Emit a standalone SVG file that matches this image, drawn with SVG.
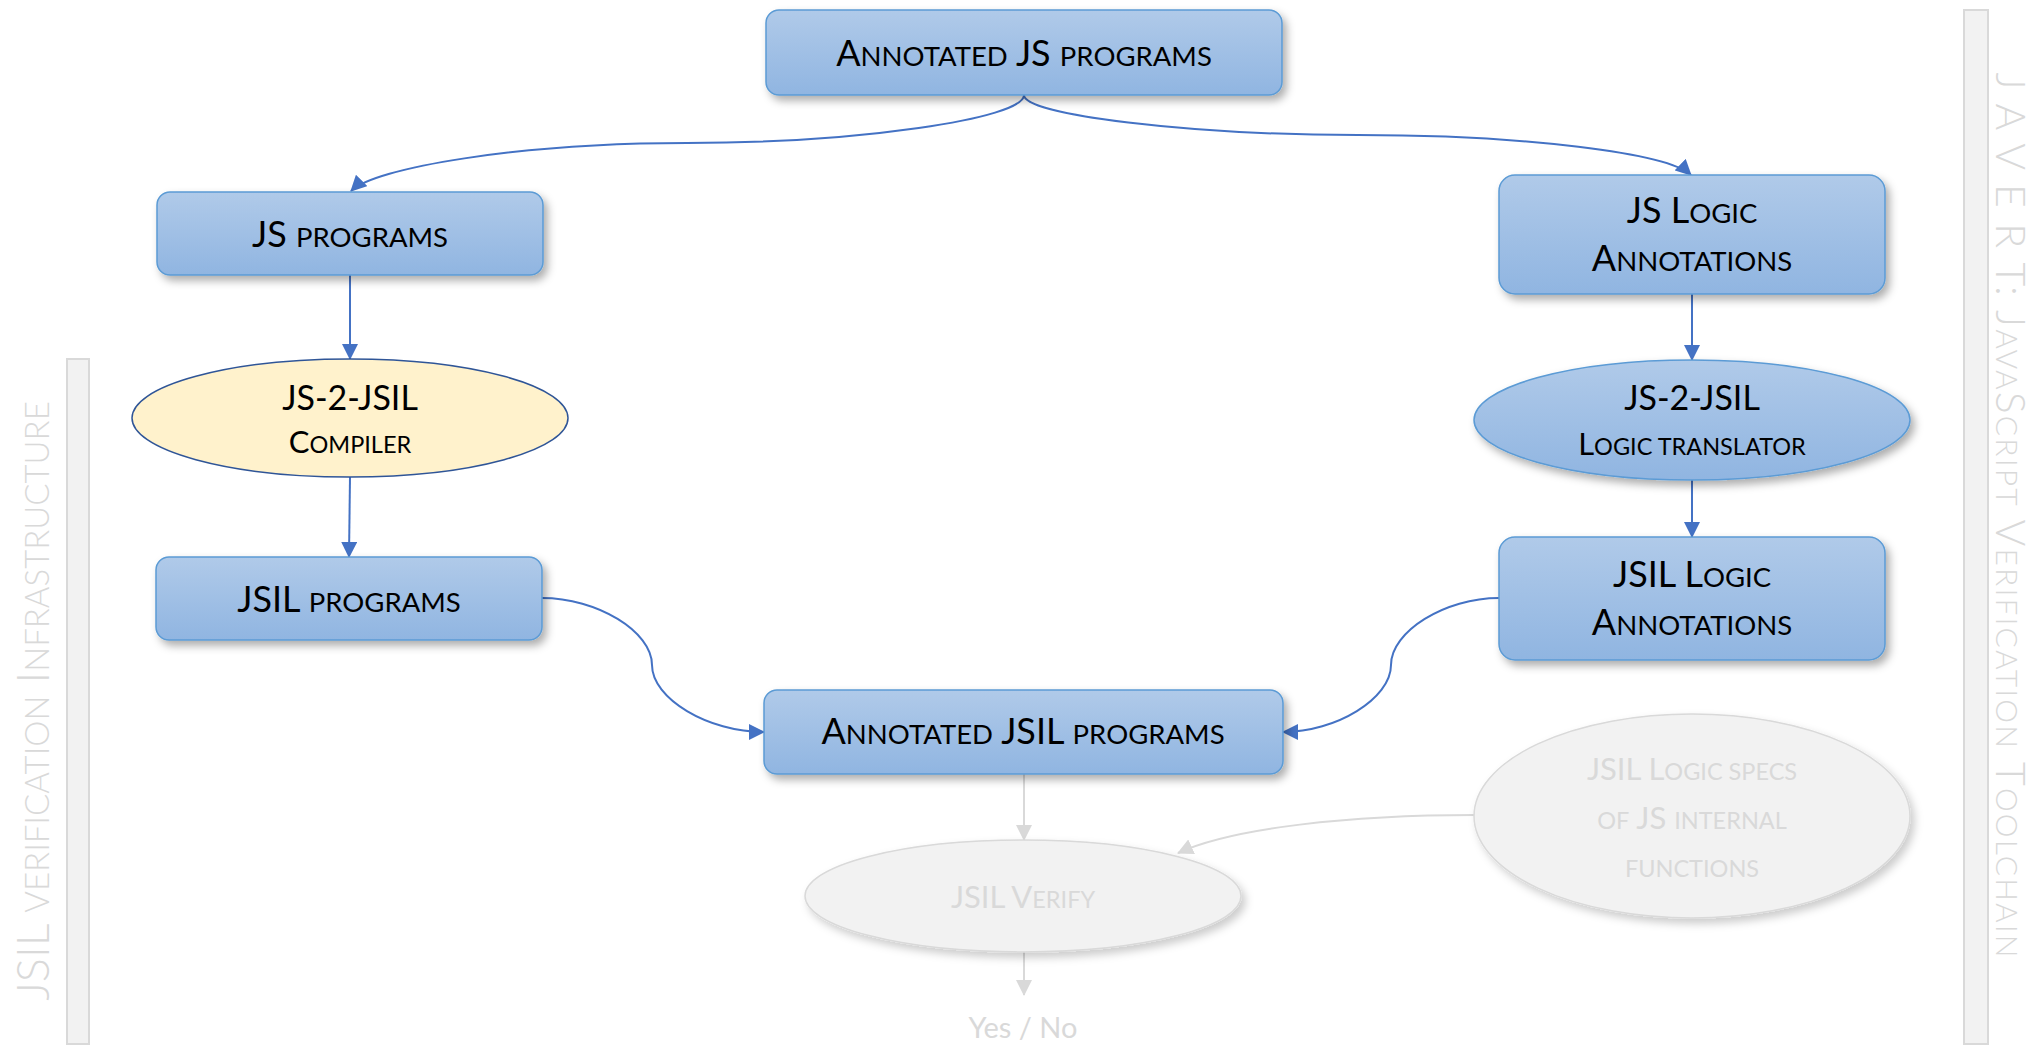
<svg xmlns="http://www.w3.org/2000/svg" width="2033" height="1045" viewBox="0 0 2033 1045">
  <defs>
    <linearGradient id="blueFill" x1="0" y1="0" x2="0" y2="1">
      <stop offset="0" stop-color="#b0cae9"/>
      <stop offset="1" stop-color="#90b5e1"/>
    </linearGradient>
    <filter id="shadow" x="-10%" y="-20%" width="125%" height="150%">
      <feDropShadow dx="4" dy="5" stdDeviation="4" flood-color="#000" flood-opacity="0.32"/>
    </filter>
    <filter id="shadowSoft" x="-10%" y="-20%" width="125%" height="150%">
      <feDropShadow dx="4" dy="5" stdDeviation="4" flood-color="#000" flood-opacity="0.2"/>
    </filter>
    <marker id="arrowBlue" markerUnits="userSpaceOnUse" markerWidth="16" markerHeight="16" viewBox="0 0 16 16" refX="15" refY="8" orient="auto">
      <path d="M0,0 L16,8 L0,16 Z" fill="#4472c4"/>
    </marker>
    <marker id="arrowGray" markerUnits="userSpaceOnUse" markerWidth="16" markerHeight="16" viewBox="0 0 16 16" refX="15" refY="8" orient="auto">
      <path d="M0,0 L16,8 L0,16 Z" fill="#d9d9d9"/>
    </marker>
  </defs>
  <style>
    .box { fill: url(#blueFill); stroke: #5b9bd5; stroke-width: 1.5; filter: url(#shadow); }
    .oval { fill: url(#blueFill); stroke: #5b9bd5; stroke-width: 1.5; filter: url(#shadow); }
    .compiler { fill: #fff2cc; stroke: #2f5597; stroke-width: 1.5; }
    .ghost { fill: #f2f2f2; stroke: #d9d9d9; stroke-width: 1.5; filter: url(#shadowSoft); }
    .band { fill: #f2f2f2; stroke: #d9d9d9; stroke-width: 2; }
    .lbl { font-family: Lato, "Open Sans", sans-serif; font-size: 36px; fill: #000; text-anchor: middle; }
    .lbl2 { font-family: Lato, "Open Sans", sans-serif; font-size: 31px; fill: #000; text-anchor: middle; }
    .big2 { font-size: 34px; }
    .grey { fill: #d9d9d9; }
    .side { font-family: Lato, "Open Sans", sans-serif; font-size: 45px; font-weight: 300; fill: #d9d9d9; text-anchor: middle; }
    .sideR { font-size: 41px; }
    .sm { font-size: 27.5px; }
    .sm2 { font-size: 23.5px; }
    .smSide { font-size: 33px; }
    .smSideR { font-size: 30px; }
    .link { fill: none; stroke: #4472c4; stroke-width: 2; marker-end: url(#arrowBlue); }
    .linkGrey { fill: none; stroke: #d9d9d9; stroke-width: 2; marker-end: url(#arrowGray); }
  </style>

  <!-- side bands -->
  <g id="band-left">
    <rect class="band" x="67" y="359" width="22" height="685"/>
    <text class="side" transform="translate(49,701) rotate(-90)">JSIL <tspan class="smSide">VERIFICATION</tspan> I<tspan class="smSide">NFRASTRUCTURE</tspan></text>
  </g>
  <g id="band-right">
    <rect class="band" x="1964" y="10" width="24" height="1034"/>
    <text class="side sideR" transform="translate(1996,515) rotate(90)" textLength="885" lengthAdjust="spacing">J A V E R T: J<tspan class="smSideR">AVA</tspan>S<tspan class="smSideR">CRIPT</tspan> V<tspan class="smSideR">ERIFICATION</tspan> T<tspan class="smSideR">OOLCHAIN</tspan></text>
  </g>

  <!-- connectors -->
  <g id="connectors">
    <path class="link" d="M1024,95 C1024,119 855.5,143 687,143 C518.5,143 374,168 351,191"/>
    <path class="link" d="M1024,95 C1024,115 1190.9,135 1357.75,135 C1524.6,135 1668,153 1691,175"/>
    <path class="link" d="M350,275 L350,359"/>
    <path class="link" d="M350,477 L349,557"/>
    <path class="link" d="M1692,294 L1692,360"/>
    <path class="link" d="M1692,480 L1692,537"/>
    <path class="link" d="M542,598 C597,598 652,631.5 652,665 C652,698.5 708,732 764,732"/>
    <path class="link" d="M1499,598 C1445,598 1391,631.5 1391,665 C1391,698.5 1336,732 1283,732"/>
    <path class="linkGrey" d="M1024,774 L1024,840"/>
    <path class="linkGrey" d="M1024,952 L1024,995"/>
    <path class="linkGrey" d="M1475,815 C1350,815 1232,828 1178,853"/>
  </g>

  <!-- nodes -->
  <g id="annotated-js">
    <rect class="box" x="766" y="10" width="516" height="85" rx="13"/>
    <text class="lbl" x="1024" y="66">A<tspan class="sm">NNOTATED</tspan> JS <tspan class="sm">PROGRAMS</tspan></text>
  </g>
  <g id="js-programs">
    <rect class="box" x="157" y="192" width="386" height="83" rx="13"/>
    <text class="lbl" x="350" y="247">JS <tspan class="sm">PROGRAMS</tspan></text>
  </g>
  <g id="js2jsil-compiler">
    <ellipse class="compiler" cx="350" cy="418" rx="218" ry="59"/>
    <text class="lbl2 big2" x="350" y="410">JS-2-JSIL</text>
    <text class="lbl2" x="350" y="453">C<tspan class="sm2">OMPILER</tspan></text>
  </g>
  <g id="jsil-programs">
    <rect class="box" x="156" y="557" width="386" height="83" rx="13"/>
    <text class="lbl" x="349" y="612">JSIL <tspan class="sm">PROGRAMS</tspan></text>
  </g>
  <g id="annotated-jsil">
    <rect class="box" x="764" y="690" width="519" height="84" rx="13"/>
    <text class="lbl" x="1023" y="744">A<tspan class="sm">NNOTATED</tspan> JSIL <tspan class="sm">PROGRAMS</tspan></text>
  </g>
  <g id="js-logic-annotations">
    <rect class="box" x="1499" y="175" width="386" height="119" rx="16"/>
    <text class="lbl" x="1692" y="223">JS L<tspan class="sm">OGIC</tspan></text>
    <text class="lbl" x="1692" y="271">A<tspan class="sm">NNOTATIONS</tspan></text>
  </g>
  <g id="logic-translator">
    <ellipse class="oval" cx="1692" cy="420" rx="218" ry="60"/>
    <text class="lbl2 big2" x="1692" y="410">JS-2-JSIL</text>
    <text class="lbl2" x="1692" y="455">L<tspan class="sm2">OGIC TRANSLATOR</tspan></text>
  </g>
  <g id="jsil-logic-annotations">
    <rect class="box" x="1499" y="537" width="386" height="123" rx="16"/>
    <text class="lbl" x="1692" y="587">JSIL L<tspan class="sm">OGIC</tspan></text>
    <text class="lbl" x="1692" y="635">A<tspan class="sm">NNOTATIONS</tspan></text>
  </g>
  <g id="internal-specs">
    <ellipse class="ghost" cx="1692" cy="816" rx="218" ry="102"/>
    <text class="lbl2 grey" x="1692" y="780">JSIL L<tspan class="sm2">OGIC SPECS</tspan></text>
    <text class="lbl2 grey" x="1692" y="829"><tspan class="sm2">OF</tspan> JS <tspan class="sm2">INTERNAL</tspan></text>
    <text class="lbl2 grey" x="1692" y="877"><tspan class="sm2">FUNCTIONS</tspan></text>
  </g>
  <g id="jsil-verify">
    <ellipse class="ghost" cx="1023" cy="896" rx="218" ry="56"/>
    <text class="lbl2 grey" x="1023" y="908">JSIL V<tspan class="sm2">ERIFY</tspan></text>
  </g>
  <g id="yes-no">
    <text class="lbl2 grey" x="1023" y="1038" style="font-size:29px">Yes / No</text>
  </g>
</svg>
